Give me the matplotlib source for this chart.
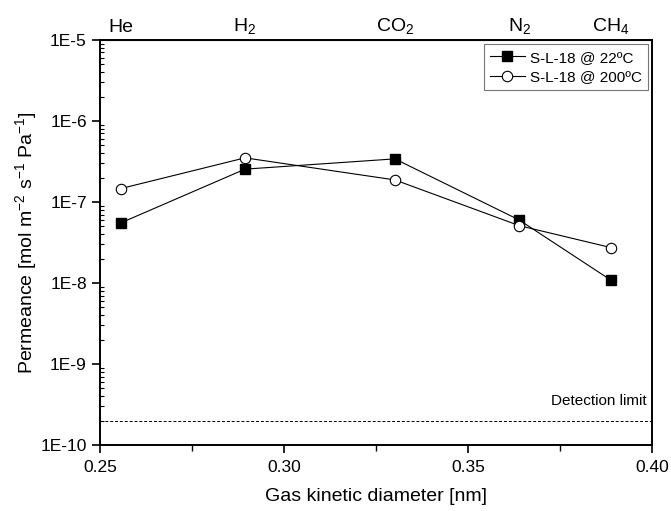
import matplotlib.pyplot as plt
from matplotlib.ticker import FuncFormatter, LogLocator, MultipleLocator
import numpy as np

plt.rcParams['font.family'] = ['Liberation Sans', 'DejaVu Sans']
plt.rcParams['mathtext.fontset'] = 'custom'
plt.rcParams['mathtext.rm'] = 'Liberation Sans'
plt.rcParams['mathtext.it'] = 'Liberation Sans:italic'
plt.rcParams['mathtext.bf'] = 'Liberation Sans:bold'
plt.rcParams['mathtext.default'] = 'rm'

gases = ['He', 'H$_2$', 'CO$_2$', 'N$_2$', 'CH$_4$']
diameter = [0.2556, 0.2894, 0.3301, 0.3639, 0.3887]
perm_22 = [5.5e-8, 2.54e-7, 3.4e-7, 5.98e-8, 1.09e-8]
perm_200 = [1.46e-7, 3.5e-7, 1.87e-7, 5.1e-8, 2.74e-8]
detection_limit = 2e-10


def main():
    fig = plt.figure(figsize=(6.71, 5.11), dpi=100)
    ax = fig.add_axes([0.149, 0.129, 0.823, 0.793])

    ax.plot(diameter, perm_22, '-s', color='black', lw=0.8, ms=7,
            mfc='black', mec='black', label='S-L-18 @ 22ºC')
    ax.plot(diameter, perm_200, '-o', color='black', lw=0.8, ms=7.5,
            mfc='white', mec='black', mew=0.8, label='S-L-18 @ 200ºC')
    ax.axhline(detection_limit, color='black', lw=0.7, ls=(0, (3, 2)))
    ax.text(0.3985, 2.9e-10, 'Detection limit', ha='right', va='bottom', fontsize=11)

    ax.set_yscale('log')
    ax.set_xlim(0.25, 0.40)
    ax.set_ylim(1e-10, 1e-5)
    ax.set_xticks([0.25, 0.30, 0.35, 0.40])
    ax.xaxis.set_minor_locator(MultipleLocator(0.025))
    ax.xaxis.set_major_formatter(FuncFormatter(lambda v, p: f'{v:.2f}'))
    ax.yaxis.set_major_locator(LogLocator(base=10, numticks=10))
    ax.yaxis.set_minor_locator(LogLocator(base=10, subs=np.arange(2, 10), numticks=20))
    ax.yaxis.set_major_formatter(FuncFormatter(lambda v, p: f'1E{int(round(np.log10(v)))}'))

    ax.tick_params(axis='both', which='major', direction='out', length=6, width=1.2,
                   labelsize=12.5, top=False, right=False)
    ax.tick_params(axis='x', which='major', pad=5)
    ax.tick_params(axis='x', which='minor', direction='out', length=4, width=1.0)
    ax.tick_params(axis='y', which='minor', direction='in', length=3, width=0.8)
    for s in ax.spines.values():
        s.set_linewidth(1.4)

    ax.set_xlabel('Gas kinetic diameter [nm]', fontsize=14, labelpad=9)
    ax.set_ylabel('Permeance [mol m$^{-2}$ s$^{-1}$ Pa$^{-1}$]', fontsize=14, labelpad=1)

    top = ax.secondary_xaxis('top')
    top.set_xticks(diameter)
    top.set_xticklabels(gases)
    top.tick_params(length=0, labelsize=14, pad=3)

    leg = ax.legend(loc='upper right', fontsize=11, frameon=True, fancybox=False,
                    edgecolor='#555555', handlelength=2.3, borderpad=0.4,
                    labelspacing=0.35, handletextpad=0.3, borderaxespad=0.3)
    leg.get_frame().set_linewidth(0.8)

    fig.savefig('out.png', dpi=100)


if __name__ == "__main__":
    main()
